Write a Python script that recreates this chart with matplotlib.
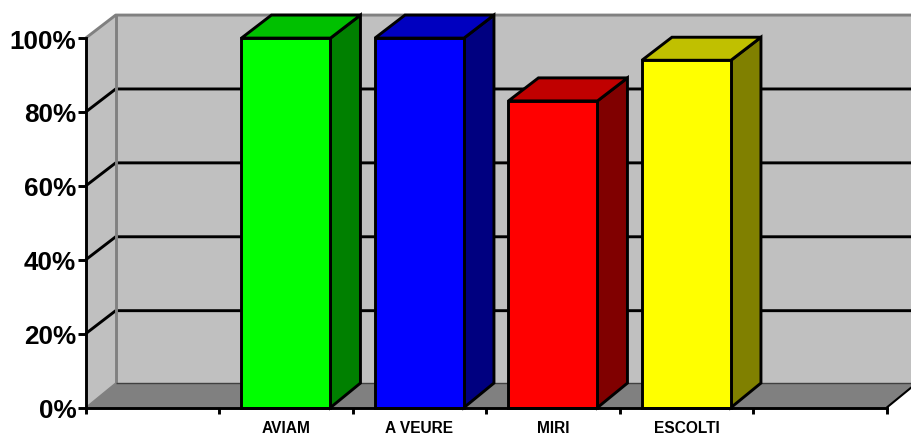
import matplotlib
matplotlib.use('Agg')
import matplotlib.pyplot as plt
from matplotlib.patches import Polygon

categories = ['AVIAM', 'A VEURE', 'MIRI', 'ESCOLTI']
values = [100, 100, 83, 94]
slots = [1, 2, 3, 4]
n_slots = 6
yticks = [0, 20, 40, 60, 80, 100]
front_colors = ['#00FF00', '#0000FF', '#FF0000', '#FFFF00']
top_colors = ['#00C000', '#0000C0', '#C00000', '#C0C000']
side_colors = ['#008000', '#000080', '#800000', '#808000']

W, H = 911, 435
LW = 2.1
# oblique offset of the back plane, in data units
DX = 30 / 133.5
DY = 23 / 3.69
FLOOR_DY = 24.5 / 3.69
BAR_W = 89 / 133.5

plt.rcParams['font.family'] = ['Liberation Sans', 'DejaVu Sans']

fig = plt.figure(figsize=(W / 100, H / 100), dpi=100)
ax = fig.add_axes([85.7 / W, (H - 408.6) / H, 801 / W, 369.5 / H])
ax.set_xlim(0, n_slots)
ax.set_ylim(0, 100)
ax.patch.set_visible(False)


def poly(points, face, edge='none', lw=0, z=1):
    p = Polygon(points, closed=True, facecolor=face, edgecolor=edge, linewidth=lw,
                joinstyle='miter', clip_on=False, zorder=z)
    ax.add_patch(p)


def line(xs, ys, color='black', lw=LW, z=2):
    ax.plot(xs, ys, color=color, lw=lw, clip_on=False, zorder=z, solid_capstyle='butt')


# walls and floor
poly([(DX, FLOOR_DY), (n_slots + DX, FLOOR_DY), (n_slots + DX, 100 + DY), (DX, 100 + DY)], '#C0C0C0')
poly([(0, 0), (DX, FLOOR_DY), (DX, 100 + DY), (0, 100)], '#C0C0C0')
poly([(0, 0), (n_slots, 0), (n_slots + DX, FLOOR_DY), (DX, FLOOR_DY)], '#808080', z=1.5)

# gridlines run along the side wall and then the back wall
for t in yticks[1:-1]:
    line([0, DX, n_slots + DX], [t, t + DY, t + DY])

# wall edges
line([0, DX, n_slots + DX], [100, 100 + DY, 100 + DY], color='#808080')
line([DX, DX], [FLOOR_DY, 100 + DY], color='#808080', z=2.2)
line([0, DX], [0, FLOOR_DY], color='#808080', lw=1, z=2.2)
line([DX, n_slots + DX], [FLOOR_DY, FLOOR_DY], color='#404040', lw=1, z=2.2)
line([n_slots, n_slots + DX], [0, FLOOR_DY], color='black', lw=1.5, z=2.2)

# bars, each with front, top and side faces
for i, (slot, v) in enumerate(zip(slots, values)):
    x0 = slot + (1 - BAR_W) / 2
    x1 = x0 + BAR_W
    z = 3 + i
    poly([(x1, 0), (x1 + DX, FLOOR_DY), (x1 + DX, v + DY), (x1, v)], side_colors[i], 'black', LW, z)
    poly([(x0, v), (x1, v), (x1 + DX, v + DY), (x0 + DX, v + DY)], top_colors[i], 'black', LW, z)
    poly([(x0, 0), (x1, 0), (x1, v), (x0, v)], front_colors[i], 'black', LW, z)

# axes
for s in ['top', 'right']:
    ax.spines[s].set_visible(False)
for s in ['left', 'bottom']:
    ax.spines[s].set_linewidth(LW)
    ax.spines[s].set_zorder(10)

ax.set_yticks(yticks)
ax.set_yticklabels(['{}%'.format(t) for t in yticks], fontsize=18.8, fontweight='bold',
                   va='center_baseline')
ax.tick_params(axis='y', length=5.8, width=LW, pad=1)

ax.set_xticks(range(n_slots + 1))
ax.set_xticklabels([])
ax.tick_params(axis='x', which='major', length=4.5, width=LW)
ax.set_xticks([s + 0.5 for s in slots], minor=True)
ax.set_xticklabels(categories, minor=True, fontsize=11.2, fontweight='bold')
ax.tick_params(axis='x', which='minor', length=0, pad=9)

fig.savefig('out.png', dpi=100, facecolor='white')
